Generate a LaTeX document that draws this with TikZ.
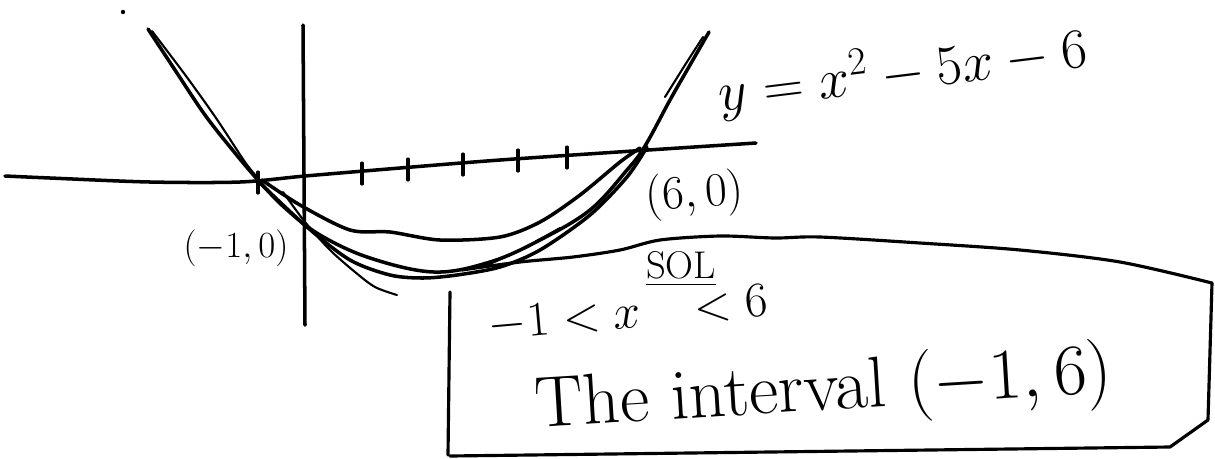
\RequirePackage{fix-cm}
\documentclass[tikz,border=0pt]{standalone}
\usepackage{tikz}
\usetikzlibrary{calc}
\usepackage{amsmath}
\tikzset{
  axisline/.style  = {line width=2pt, line cap=round, draw=black},
  tickmark/.style  = {line width=1.8pt, line cap=round},
  stroke/.style    = {line width=2pt, line cap=round, line join=round},
  thinstroke/.style= {line width=1.2pt, line cap=round},
  boxline/.style   = {line width=1.8pt, line cap=round, line join=round},
  hand/.style      = {inner sep=0pt, anchor=center}
}
\begin{document}
\begin{tikzpicture}[x=0.02cm, y=-0.02cm]
\useasboundingbox (0,0) rectangle (1215,458);
% Axes
\draw[axisline] plot[smooth, tension=0.5] coordinates
  {(5,176) (50,178) (150,182) (240,182) (305,176) (400,168) (500,160) (633,151) (756,143)};
\draw[axisline] (303,25) -- (305,325);
\foreach \tx/\ty in {258/181, 362/172, 408/168, 463/163, 518/159, 567/156} {
  \draw[tickmark] (\tx,\ty-9) -- (\tx,\ty+12);
}
\fill (123,12) circle (2.2);
% Parabola, drawn several times over
\draw[stroke] plot[smooth, tension=0.6] coordinates
  {(148,29) (175,70) (205,115) (235,153) (258,180) (285,208) (320,235) (370,258)
   (434,272) (490,262) (540,240) (590,210) (627,170) (645,146) (670,100) (690,65) (709,32)};
\draw[thinstroke] plot[smooth] coordinates {(152,31) (186,76) (216,118) (245,162) (258,178)};
\draw[stroke] plot[smooth] coordinates
  {(262,180) (300,205) (350,230) (390,232) (440,240) (500,237) (540,222) (580,195) (620,162) (640,148)};
\draw[stroke] plot[smooth] coordinates
  {(260,183) (307,227) (350,260) (390,275) (423,278) (457,275) (500,267) (540,250) (590,215) (627,177) (647,147)};
\draw[thinstroke] plot[smooth] coordinates {(283,192) (305,222) (330,250) (355,272) (375,287) (397,295)};
\draw[thinstroke] plot[smooth] coordinates {(483,267) (520,250) (560,228)};
\draw[thinstroke] plot[smooth] coordinates {(665,97) (685,65) (703,37)};
% Labels
\node[hand, font=\fontsize{32}{36}\selectfont, rotate=7] (eqn) at (903,72) {$y = x^{2} - 5x - 6$};
\node[hand, font=\fontsize{27}{31}\selectfont, rotate=4] (rootr) at (695,195) {$(6,0)$};
\node[hand, font=\fontsize{21}{25}\selectfont] (rootl) at (236,248) {$(-1,0)$};
% Solution box
\draw[boxline] plot[smooth, tension=0.5] coordinates
  {(462,270) (520,262) (573,257) (620,250) (660,240) (720,236) (775,238) (820,237)
   (920,243) (1020,250) (1120,262) (1212,283)};
\draw[boxline] (1212,283) -- (1208,420) -- (1170,447) -- (450,456);
\draw[boxline] (448,455) -- (450,292);
\node[hand, font=\fontsize{22}{26}\selectfont] (sol) at (681,269) {\underline{SOL}};
\node[hand, font=\fontsize{28}{32}\selectfont, rotate=5] (ineq) at (628,314) {$-1 < x\hspace{0.8em} < 6$};
\node[hand, font=\fontsize{41}{45}\selectfont, rotate=3.5] (intv) at (824,392) {The interval $(-1,6)$};
\end{tikzpicture}
\end{document}
